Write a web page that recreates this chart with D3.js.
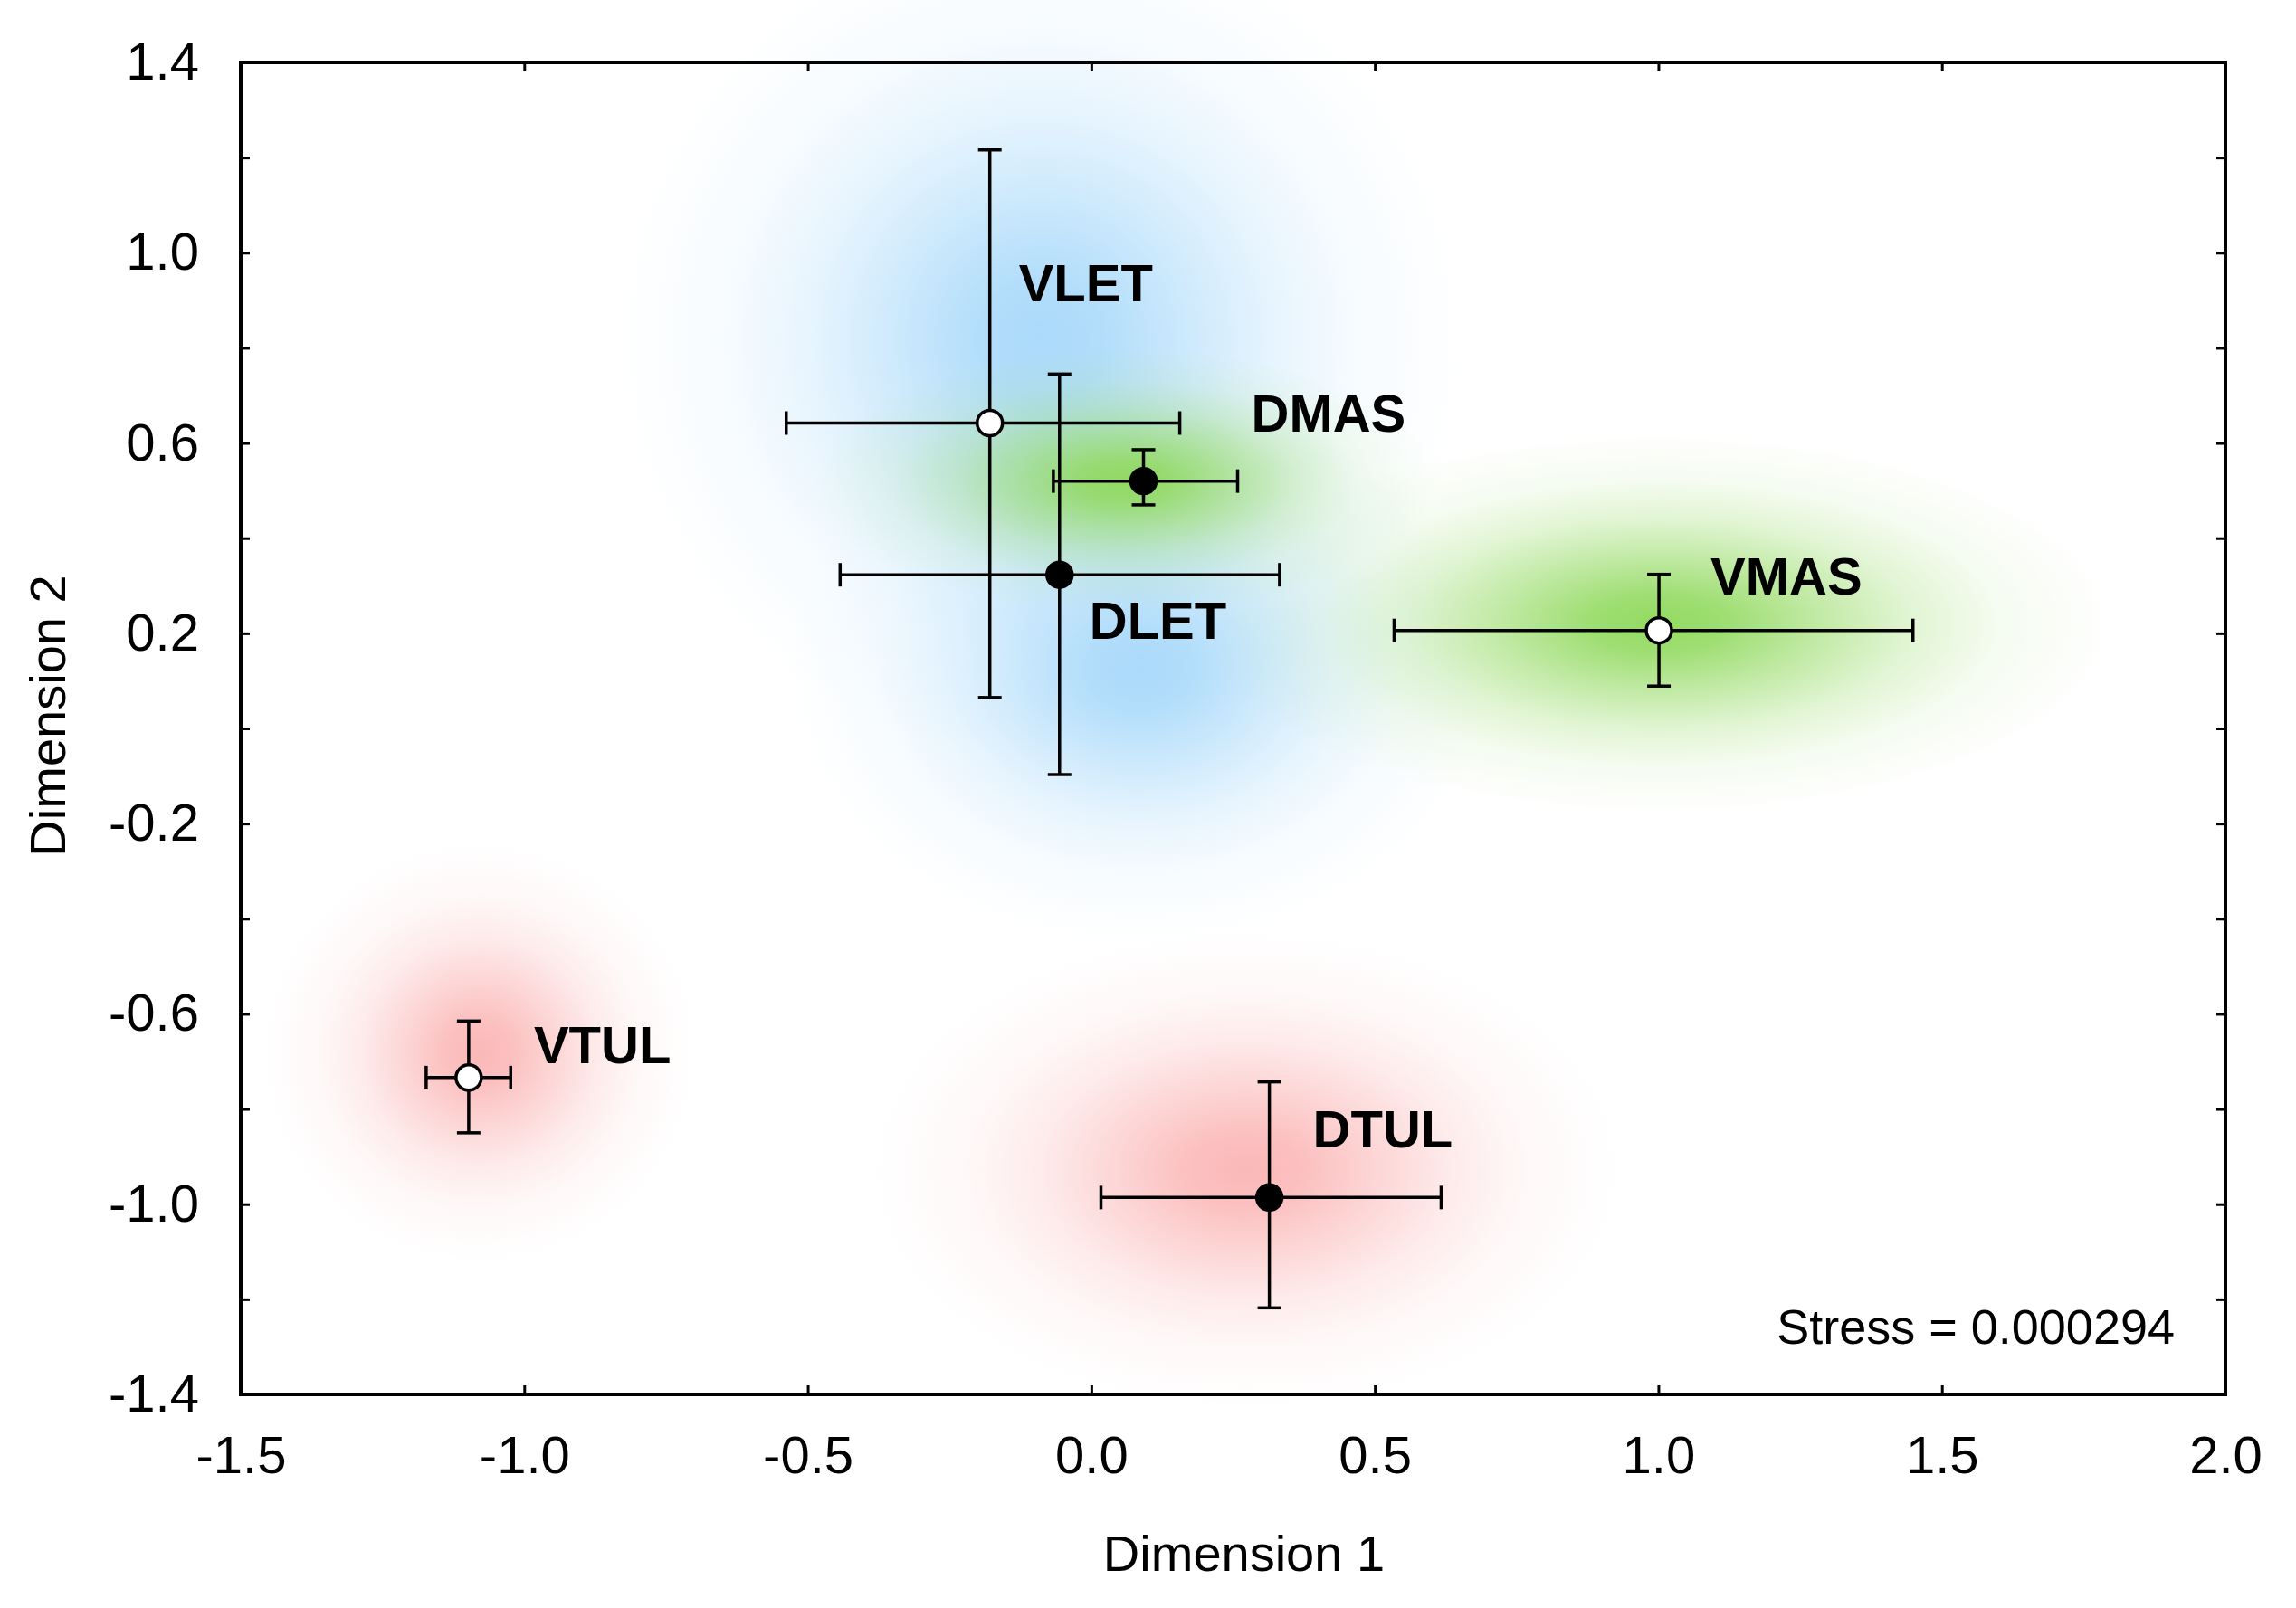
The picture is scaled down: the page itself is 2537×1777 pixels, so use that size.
<!DOCTYPE html>
<html lang="en">
<head>
    <meta charset="UTF-8">
    <title>MDS plot - Dimension 1 vs Dimension 2</title>
    <script src="https://d3js.org/d3.v7.min.js"></script>
    <style>
        body { margin: 0; background: #fff; }
        text { font-family: Arial, "Liberation Sans", sans-serif; fill: #000; }
    </style>
</head>
<body>
<div id="chart"></div>

<script>
// points
const names   = ["VLET", "DLET", "DMAS", "VMAS", "VTUL", "DTUL"];
const groups  = ["LET", "LET", "MAS", "MAS", "TUL", "TUL"];
const filled  = [false, true, true, false, false, true];
const dim1    = [-0.179, -0.056, 0.092, 1.001, -1.098, 0.314];
const dim2    = [0.642, 0.323, 0.520, 0.206, -0.734, -0.986];
const dim1Lo  = [-0.538, -0.443, -0.067, 0.534, -1.173, 0.017];
const dim1Hi  = [0.156, 0.332, 0.258, 1.449, -1.024, 0.617];
const dim2Lo  = [0.065, -0.097, 0.470, 0.089, -0.850, -1.218];
const dim2Hi  = [1.216, 0.745, 0.586, 0.324, -0.615, -0.743];

// soft colour clouds behind the groups (centre and radii in data units)
const glowGroup = ["LET", "LET", "MAS", "MAS", "TUL", "TUL"];
const glowX     = [-0.089, 0.086, 0.06, 1.0, -1.079, 0.273];
const glowY     = [0.818, 0.124, 0.52, 0.22, -0.681, -0.928];
const glowRx    = [0.75, 0.62, 0.55, 0.8, 0.38, 0.66];
const glowRy    = [0.88, 0.58, 0.28, 0.4, 0.44, 0.5];

const xTicks = [-1.5, -1.0, -0.5, 0.0, 0.5, 1.0, 1.5, 2.0];
const yTicks = d3.range(-7, 8).map(i => i * 0.2);
const yLabels = [-1.4, -1.0, -0.6, -0.2, 0.2, 0.6, 1.0, 1.4];
const stressText = "Stress = 0.000294";

const width = 2537;
const height = 1777;
const margin = { top: 69, right: 78, bottom: 236, left: 266 };

const colors = { LET: "#a6d8fa", MAS: "#8ed85a", TUL: "#fbb4b4" };

const x = d3.scaleLinear().domain([-1.5, 2.0]).range([margin.left, width - margin.right]);
const y = d3.scaleLinear().domain([-1.4, 1.4]).range([height - margin.bottom, margin.top]);

const svg = d3.select("#chart").append("svg")
    .attr("width", width)
    .attr("height", height);

// gradients for the clouds, roughly gaussian fall-off
const defs = svg.append("defs");
Object.keys(colors).forEach(g => {
    const grad = defs.append("radialGradient").attr("id", "glow-" + g);
    [[0, 0.95], [0.15, 0.85], [0.35, 0.55], [0.55, 0.27], [0.75, 0.09], [1, 0]].forEach(s => {
        grad.append("stop")
            .attr("offset", s[0])
            .attr("stop-color", colors[g])
            .attr("stop-opacity", s[1]);
    });
});

svg.append("g")
    .selectAll("ellipse")
    .data(d3.range(glowX.length))
    .join("ellipse")
    .attr("cx", i => x(glowX[i]))
    .attr("cy", i => y(glowY[i]))
    .attr("rx", i => x(glowRx[i]) - x(0))
    .attr("ry", i => y(0) - y(glowRy[i]))
    .attr("fill", i => "url(#glow-" + glowGroup[i] + ")");

// axes: ticks inward on all four sides
const fmt = v => (Math.abs(v) < 1e-9 ? 0 : v).toFixed(1);
const tickLen = 10;

svg.append("g")
    .attr("transform", `translate(0,${y(-1.4)})`)
    .call(d3.axisBottom(x).tickValues(xTicks).tickSizeInner(-tickLen).tickSizeOuter(0).tickPadding(46).tickFormat(fmt))
    .call(g => g.selectAll("text").attr("font-size", 58).attr("font-family", "Arial, 'Liberation Sans', sans-serif"));

svg.append("g")
    .attr("transform", `translate(0,${y(1.4)})`)
    .call(d3.axisTop(x).tickValues(xTicks).tickSizeInner(-tickLen).tickSizeOuter(0).tickFormat(""));

svg.append("g")
    .attr("transform", `translate(${x(-1.5)},0)`)
    .call(d3.axisLeft(y).tickValues(yTicks).tickSizeInner(-tickLen).tickSizeOuter(0).tickPadding(46)
        .tickFormat(v => yLabels.some(l => Math.abs(l - v) < 1e-6) ? fmt(v) : ""))
    .call(g => g.selectAll("text").attr("font-size", 58).attr("font-family", "Arial, 'Liberation Sans', sans-serif"));

svg.append("g")
    .attr("transform", `translate(${x(2.0)},0)`)
    .call(d3.axisRight(y).tickValues(yTicks).tickSizeInner(-tickLen).tickSizeOuter(0).tickFormat(""));

svg.selectAll(".tick line").attr("stroke-width", 3);
svg.selectAll(".domain").remove();

// frame
svg.append("rect")
    .attr("x", x(-1.5))
    .attr("y", y(1.4))
    .attr("width", x(2.0) - x(-1.5))
    .attr("height", y(-1.4) - y(1.4))
    .attr("fill", "none")
    .attr("stroke", "#000")
    .attr("stroke-width", 4);

// error bars
const cap = 13;
const bars = svg.append("g").attr("stroke", "#000").attr("stroke-width", 3.5).attr("fill", "none");
names.forEach((n, i) => {
    const cx = x(dim1[i]), cy = y(dim2[i]);
    const x0 = x(dim1Lo[i]), x1 = x(dim1Hi[i]);
    const y0 = y(dim2Lo[i]), y1 = y(dim2Hi[i]);
    bars.append("line").attr("x1", x0).attr("x2", x1).attr("y1", cy).attr("y2", cy);
    bars.append("line").attr("x1", x0).attr("x2", x0).attr("y1", cy - cap).attr("y2", cy + cap);
    bars.append("line").attr("x1", x1).attr("x2", x1).attr("y1", cy - cap).attr("y2", cy + cap);
    bars.append("line").attr("x1", cx).attr("x2", cx).attr("y1", y0).attr("y2", y1);
    bars.append("line").attr("x1", cx - cap).attr("x2", cx + cap).attr("y1", y0).attr("y2", y0);
    bars.append("line").attr("x1", cx - cap).attr("x2", cx + cap).attr("y1", y1).attr("y2", y1);
});

// points
svg.append("g")
    .selectAll("circle")
    .data(d3.range(names.length))
    .join("circle")
    .attr("cx", i => x(dim1[i]))
    .attr("cy", i => y(dim2[i]))
    .attr("r", 14)
    .attr("fill", i => filled[i] ? "#000" : "#fff")
    .attr("stroke", "#000")
    .attr("stroke-width", 3.5);

// labels, offset from their point
const labelOffset = {
    VLET: [32, -134], DLET: [33, 71], DMAS: [119, -55],
    VMAS: [57, -40], VTUL: [72, -16], DTUL: [48, -55]
};
svg.append("g")
    .selectAll("text")
    .data(d3.range(names.length))
    .join("text")
    .attr("x", i => x(dim1[i]) + labelOffset[names[i]][0])
    .attr("y", i => y(dim2[i]) + labelOffset[names[i]][1])
    .attr("font-size", 58)
    .attr("font-weight", "bold")
    .text(i => names[i]);

// stress note
svg.append("text")
    .attr("x", x(2.0) - 56)
    .attr("y", y(-1.4) - 56)
    .attr("text-anchor", "end")
    .attr("font-size", 54)
    .text(stressText);

// axis titles
svg.append("text")
    .attr("x", (x(-1.5) + x(2.0)) / 2 + 12)
    .attr("y", 1736)
    .attr("text-anchor", "middle")
    .attr("font-size", 56)
    .text("Dimension 1");

svg.append("text")
    .attr("transform", `translate(72,${(y(-1.4) + y(1.4)) / 2 - 14}) rotate(-90)`)
    .attr("text-anchor", "middle")
    .attr("font-size", 56)
    .text("Dimension 2");
</script>
</body>
</html>
